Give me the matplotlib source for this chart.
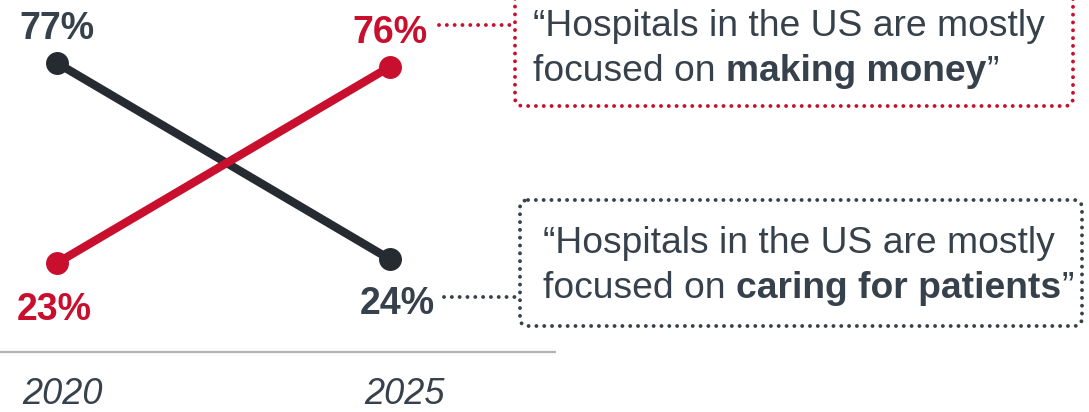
import matplotlib
matplotlib.use("Agg")
import matplotlib.pyplot as plt
import matplotlib.transforms as mtransforms
from matplotlib.patches import FancyBboxPatch

plt.rcParams["font.family"] = ["Liberation Sans", "DejaVu Sans"]

# Data
years = [2020, 2025]
money = [23, 76]      # "mostly focused on making money"
caring = [77, 24]     # "mostly focused on caring for patients"
year_labels = ["2020", "2025"]

RED = "#c8102e"
DARK = "#262b31"
TEXT = "#36414b"
GRID = "#b3b3b3"

W, H, DPI = 1089, 412, 100
fig = plt.figure(figsize=(W / DPI, H / DPI), dpi=DPI)

# Data axes spanning the whole canvas
ax = fig.add_axes([0, 0, 1, 1])
ax.set_xlim(2019.1441, 2035.4955)
ax.set_ylim(-17.23, 94.01)
ax.axis("off")

# Pixel-space overlay for annotations (origin top-left)
ov = fig.add_axes([0, 0, 1, 1], zorder=3)
ov.set_xlim(0, W)
ov.set_ylim(H, 0)
ov.axis("off")
ov.patch.set_alpha(0)

# Lines with end markers
ax.plot(years, caring, color=DARK, lw=6, marker="o", ms=15.5,
        solid_capstyle="round", zorder=2)
ax.plot(years, money, color=RED, lw=6, marker="o", ms=15.5,
        solid_capstyle="round", zorder=3)

# Value labels
lab_kw = dict(textcoords="offset pixels", ha="center", va="baseline",
              fontsize=27, fontweight="bold")
ax.annotate(f"{caring[0]}%", (years[0], caring[0]), xytext=(0, 24), color=TEXT, **lab_kw)
ax.annotate(f"{money[1]}%", (years[1], money[1]), xytext=(0, 24), color=RED, **lab_kw)
ax.annotate(f"{money[0]}%", (years[0], money[0]), xytext=(-3, -57), color=RED, **lab_kw)
ax.annotate(f"{caring[1]}%", (years[1], caring[1]), xytext=(7, -55), color=TEXT, **lab_kw)

# Baseline
ov.plot([0, 556], [352, 352], color=GRID, lw=1.6, solid_capstyle="butt")

# Year labels under the baseline
bt = mtransforms.blended_transform_factory(ax.transData, ov.transData)
for yr, lbl, dx in zip(years, year_labels, [5, 14]):
    ov.text(yr, 404, lbl, transform=bt + mtransforms.Affine2D().translate(dx, 0),
            ha="center", va="baseline", fontsize=26, style="italic", color=TEXT)

# Dotted callout boxes and connectors
DOT = (0, (0.01, 2.0))
DOT_LW = 2.8

def dotted_box(x0, y0, x1, y1, color):
    p = FancyBboxPatch((x0, y0), x1 - x0, y1 - y0,
                       boxstyle="round,pad=0,rounding_size=8",
                       fill=False, edgecolor=color, lw=DOT_LW,
                       linestyle=DOT, capstyle="round")
    ov.add_patch(p)

def dotted_line(x0, x1, y, color):
    ov.plot([x0, x1], [y, y], color=color, lw=DOT_LW,
            linestyle=DOT, dash_capstyle="round")

dotted_box(515, -20, 1073, 106, RED)
dotted_line(439, 512, 25, RED)
dotted_box(520, 200, 1082, 326, TEXT)
dotted_line(444, 517, 297, TEXT)

# Quote text with a bold phrase
def rich_line(x, y, parts, size=26.8):
    prev = None
    for txt, bold, gap in parts:
        kw = dict(fontsize=size, color=TEXT,
                  fontweight="bold" if bold else "normal")
        if prev is None:
            prev = ov.text(x, y, txt, ha="left", va="baseline", **kw)
        else:
            prev = ov.annotate(txt, xy=(1, 0), xycoords=prev,
                               xytext=(gap, 0), textcoords="offset pixels",
                               ha="left", va="bottom", **kw)
    return prev

fig.canvas.draw()
rich_line(533, 36, [("\u201cHospitals in the US are mostly", False, 0)])
rich_line(533, 81, [("focused on", False, 0), ("making money", True, 10),
                    ("\u201d", False, 1)])
rich_line(543, 253, [("\u201cHospitals in the US are mostly", False, 0)])
rich_line(543, 298, [("focused on", False, 0), ("caring for patients", True, 10),
                     ("\u201d", False, 1)])

fig.savefig("out.png", dpi=DPI)
